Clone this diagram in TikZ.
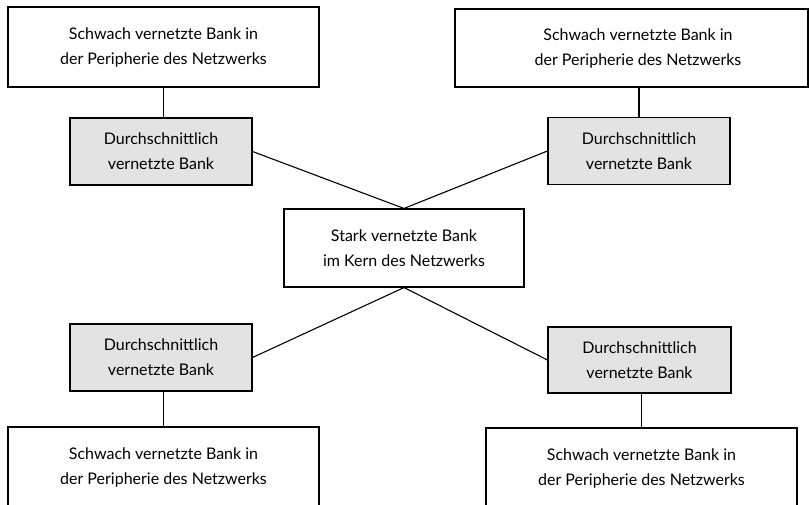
\documentclass[tikz,border=0pt]{standalone}
\usepackage{fontspec}
\setmainfont{Lato}
\definecolor{boxgray}{RGB}{227,227,227}
\begin{document}
\begin{tikzpicture}[x=1pt,y=-1pt,
  base/.style={draw=black,line width=1.1pt,inner sep=0pt,align=center,
    font=\fontsize{16}{25}\selectfont},
  wbox/.style={base,fill=white},
  gbox/.style={base,fill=boxgray,minimum width=182pt,minimum height=67pt},
  link/.style={line width=1.1pt}]
\useasboundingbox (0,0) rectangle (809,505);
\clip (0,0) rectangle (809,505);
\node[wbox,minimum width=311pt,minimum height=80pt] (tlw) at (163.5,47) {Schwach vernetzte Bank in\\der Peripherie des Netzwerks};
\node[wbox,minimum width=353pt,minimum height=78pt] (trw) at (631.5,48) {\hspace*{13pt}Schwach vernetzte Bank in\\\hspace*{13pt}der Peripherie des Netzwerks};
\node[gbox] (tlg) at (161,151.5) {Durchschnittlich\\vernetzte Bank};
\node[gbox] (trg) at (639,151) {Durchschnittlich\\vernetzte Bank};
\node[wbox,minimum width=240pt,minimum height=78pt] (c) at (404,248) {Stark vernetzte Bank\\im Kern des Netzwerks};
\node[gbox] (blg) at (161,357.5) {Durchschnittlich\\vernetzte Bank};
\node[gbox,minimum width=183pt,minimum height=66pt] (brg) at (639.5,360) {Durchschnittlich\\vernetzte Bank};
\node[wbox,minimum width=311pt,minimum height=80pt] (blw) at (163.5,467) {Schwach vernetzte Bank in\\der Peripherie des Netzwerks};
\node[wbox,minimum width=311pt,minimum height=80pt] (brw) at (641.5,468) {Schwach vernetzte Bank in\\der Peripherie des Netzwerks};
\draw[link] (tlw.south) -- (tlw.south |- tlg.north);
\draw[link] (trg.north) -- (trg.north |- trw.south);
\draw[link] (blw.north) -- (blw.north |- blg.south);
\draw[link] (brw.north) -- (brw.north |- brg.south);
\draw[link] (tlg.east) -- (c.north);
\draw[link] (trg.west) -- (c.north);
\draw[link] (blg.east) -- (c.south);
\draw[link] (brg.west) -- (c.south);
\end{tikzpicture}
\end{document}
